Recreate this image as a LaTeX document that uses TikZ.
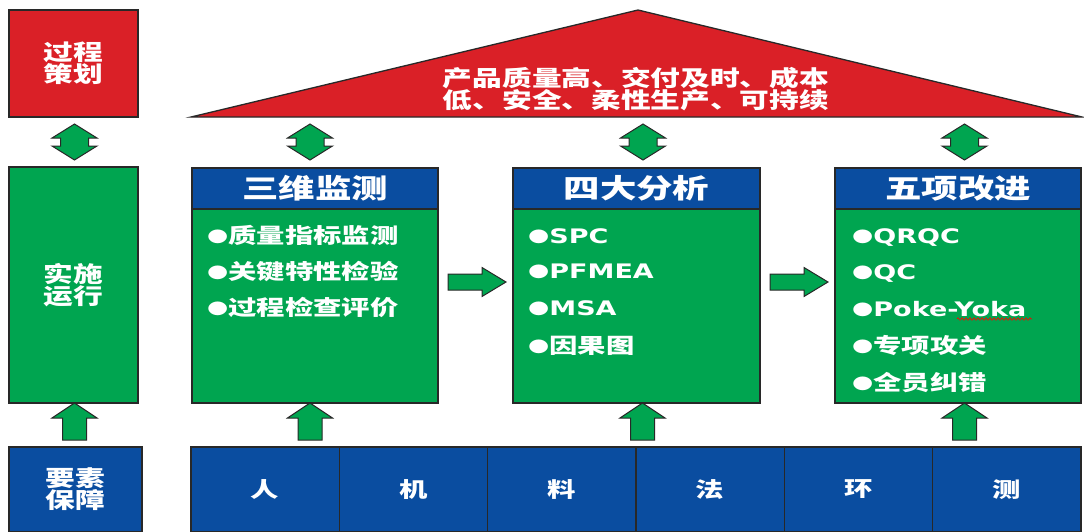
\documentclass[tikz,border=0pt]{standalone}
\usepackage{fontspec}
\usetikzlibrary{calc,decorations.pathmorphing}
\newfontfamily\cjk{Noto Sans CJK SC}[FakeStretch=1.35]
\newfontfamily\lat{DejaVu Sans}[FakeStretch=1.35]
\definecolor{cred}{RGB}{218,32,39}
\definecolor{cgreen}{RGB}{0,165,80}
\definecolor{cblue}{RGB}{10,77,160}
\definecolor{cline}{RGB}{40,40,40}
\newcommand\blt{\raisebox{1.8pt}{\lat\fontsize{18}{18}\selectfont ●}}
\newcommand\zhi[1]{{\cjk\bfseries\fontsize{21}{21}\selectfont #1}}
\newcommand\eni[1]{{\lat\bfseries\fontsize{20}{20}\selectfont #1}}
\tikzset{
  box/.style={draw=cline,line width=1.3pt,inner sep=0pt,text=white,align=center},
  redbox/.style={box,fill=cred},
  greenbox/.style={box,fill=cgreen},
  bluebox/.style={box,fill=cblue},
  sidetext/.style={font=\cjk\bfseries\fontsize{22}{22}\selectfont},
  headtext/.style={font=\cjk\bfseries\fontsize{27}{27}\selectfont},
  celltext/.style={font=\cjk\bfseries\fontsize{21}{21}\selectfont},
  item/.style={anchor=base west,inner sep=0pt,text=white},
  arrowfill/.style={fill=cgreen,draw=cline,line width=1pt,line join=miter},
  uparr/.pic={\draw[arrowfill] (0,0) -- (22.5,15) -- (12,15) -- (12,37) -- (-12,37) -- (-12,15) -- (-22.5,15) -- cycle;},
  udarr/.pic={\draw[arrowfill] (0,0) -- (22.5,14) -- (14,14) -- (14,22) -- (22.5,22) -- (0,36) -- (-22.5,22) -- (-14,22) -- (-14,14) -- (-22.5,14) -- cycle;},
  rarr/.pic={\draw[arrowfill] (0,-8) -- (34,-8) -- (34,-14.5) -- (58,0) -- (34,14.5) -- (34,8) -- (0,8) -- cycle;}
}
\begin{document}
\begin{tikzpicture}[x=1pt,y=-1pt]
\useasboundingbox (0,0) rectangle (1084,531);
\begin{scope}
\clip (0,0) rectangle (1084,531);
% left column
\node[redbox,sidetext,minimum width=129pt,minimum height=107pt] (plan) at (73.5,63.5) {过程\\策划};
\node[greenbox,sidetext,minimum width=129pt,minimum height=236pt] (run) at (73.5,285) {实施\\运行};
\node[bluebox,sidetext,minimum width=133pt,minimum height=85pt] (guard) at (75.5,489.5) {要素\\保障};
\pic at (74.5,124) {udarr};
\pic at (74.5,403) {uparr};
% roof
\coordinate (roofL) at (191,117);
\coordinate (roofT) at (638,10);
\coordinate (roofR) at (1082,117);
\draw[fill=cred,draw=cline,line width=1.3pt,line join=miter] (roofL) -- (roofT) -- (roofR) -- cycle;
\node[text=white,align=center,sidetext,inner sep=0pt] (goal) at (636,89) {产品质量高、交付及时、成本\\低、安全、柔性生产、可持续};
% three boxes
\node[bluebox,headtext,minimum width=246pt,minimum height=41pt] (h1) at (315,188.5) {三维监测};
\node[greenbox,minimum width=246pt,minimum height=194pt] (b1) at (315,306) {};
\node[bluebox,headtext,minimum width=247pt,minimum height=41pt] (h2) at (636.5,188.5) {四大分析};
\node[greenbox,minimum width=247pt,minimum height=194pt] (b2) at (636.5,306) {};
\node[bluebox,headtext,minimum width=246pt,minimum height=41pt] (h3) at (958,188.5) {五项改进};
\node[greenbox,minimum width=246pt,minimum height=194pt] (b3) at (958,306) {};
% items box1
\node[item] at (207,243) {\blt\zhi{质量指标监测}};
\node[item] at (207,279) {\blt\zhi{关键特性检验}};
\node[item] at (207,315) {\blt\zhi{过程检查评价}};
% items box2
\node[item] at (528,243) {\blt\eni{SPC}};
\node[item] at (528,278) {\blt\eni{PFMEA}};
\node[item] at (528,315) {\blt\eni{MSA}};
\node[item] at (528,353) {\blt\zhi{因果图}};
% items box3
\node[item] at (852,243) {\blt\eni{QRQC}};
\node[item] at (852,279) {\blt\eni{QC}};
\node[item] (poke) at (852,316) {\blt\eni{Poke-Yoka}};
\node[item] at (852,353) {\blt\zhi{专项攻关}};
\node[item] at (852,390) {\blt\zhi{全员纠错}};
\draw[red,line width=0.6pt,decorate,decoration={zigzag,amplitude=1.3pt,segment length=4pt}] (957,319) -- (1032,319);
% arrows
\pic at (310,124) {udarr};
\pic at (643,124) {udarr};
\pic at (964.5,124) {udarr};
\pic at (310,403) {uparr};
\pic at (642.5,403) {uparr};
\pic at (964.5,403) {uparr};
\pic at (448,282) {rarr};
\pic at (770,282) {rarr};
% bottom row
\foreach \t [count=\i from 0] in {人,机,料,法,环,测}{
  \node[bluebox,celltext,minimum width=148.33pt,minimum height=85pt] (c\i) at ({191+74.17+\i*148.33},489.5) {\t};
}
\end{scope}
\end{tikzpicture}
\end{document}
